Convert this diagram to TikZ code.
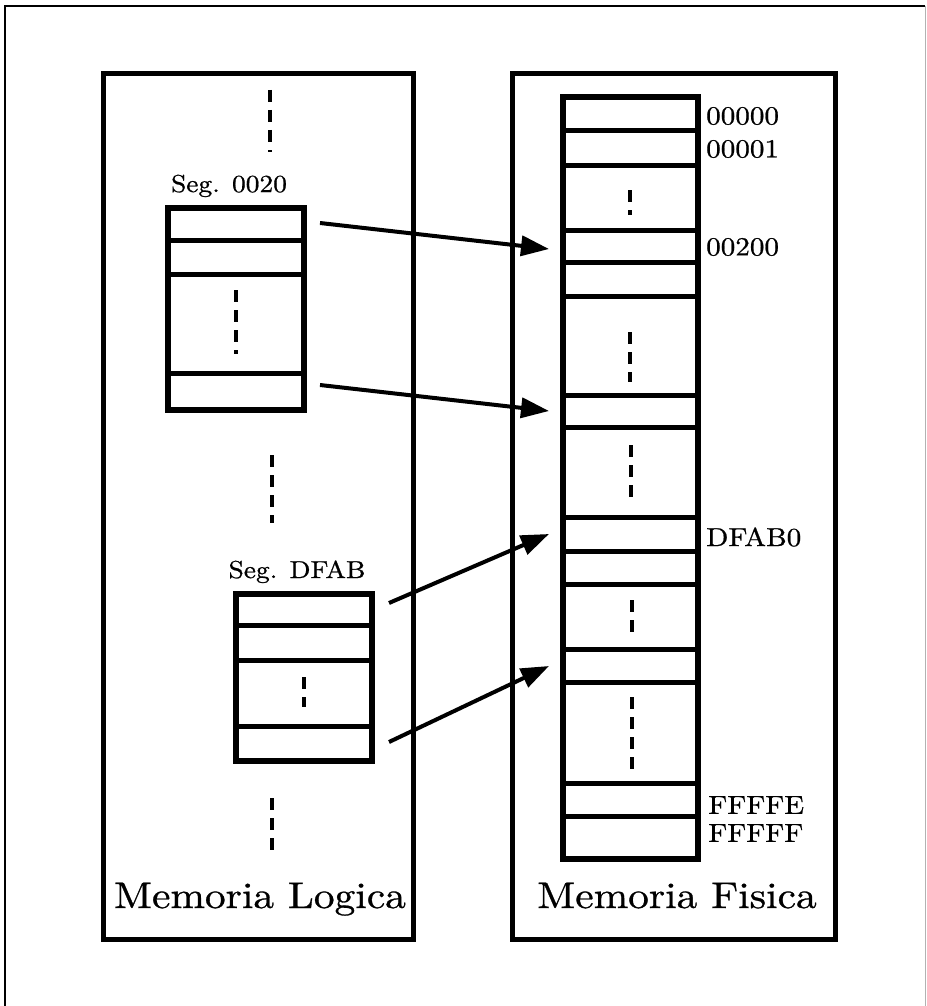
\documentclass[tikz,border=0pt]{standalone}
\usepackage{fontspec}
\setmainfont{lmroman10-regular.otf}
\newfontfamily\widefont{lmroman10-regular.otf}[FakeStretch=1.12,FakeBold=0.8]
\usetikzlibrary{arrows.meta}

\begin{document}
\begin{tikzpicture}[x=1pt,y=-1pt,
  frame/.style={line width=2.5pt},
  panel/.style={line width=5pt},
  block/.style={line width=5.5pt},
  rowline/.style={line width=5pt},
  dots/.style={line width=4pt, dash pattern=on 12pt off 8pt},
  ptr/.style={line width=4pt, -{Triangle[length=28pt,width=20pt]}},
  addr/.style={font=\widefont\fontsize{26}{26}\selectfont, anchor=west, inner sep=0pt},
  seglabel/.style={font=\widefont\fontsize{24.5}{24.5}\selectfont, anchor=base, inner sep=0pt},
  title/.style={font=\widefont\fontsize{37}{37}\selectfont, anchor=base, inner sep=0pt}]

\useasboundingbox (0,0) rectangle (926,1006);

% outer frame (open at the bottom)
\draw[frame] (5,1006) -- (5,6) -- (925,6);
\draw[line width=1pt, black!30] (925,6) -- (925,1006);

% the two panels
\draw[panel] (103,74) rectangle (413,939);
\draw[panel] (512,74) rectangle (835,939);
\node[title] (logica) at (260,908) {Memoria Logica};
\node[title] (fisica) at (677,908) {Memoria Fisica};

% logical memory: continuation marks
\draw[dots] (270,90) -- (270,152);
\draw[dots] (272,455) -- (272,523);
\draw[dots] (272,798) -- (272,852);

% segment 0020
\node[seglabel] (seg0020) at (229,192) {Seg. 0020};
\draw[block] (168,208) rectangle (304,410);
\foreach \y in {240,274,373} \draw[rowline] (168,\y) -- (304,\y);
\draw[dots] (236,290) -- (236,354);

% segment DFAB
\node[seglabel] (segdfab) at (297,578) {Seg. DFAB};
\draw[block] (236,594) rectangle (372,761);
\foreach \y in {625,660,726} \draw[rowline] (236,\y) -- (372,\y);
\draw[dots] (304,677) -- (304,707);

% physical memory column
\draw[block] (563,97) rectangle (698,859);
\foreach \y in {131,165,230,262,296,395,427,517,551,584,649,682,783,816}
  \draw[rowline] (563,\y) -- (698,\y);
\draw[dots] (630,190) -- (630,215);
\draw[dots] (630,332) -- (630,382);
\draw[dots] (631,445) -- (631,503);
\draw[dots] (632,600) -- (632,638);
\draw[dots] (632,697) -- (632,770);

% addresses
\node[addr] (a00000) at (706,116) {00000};
\node[addr] (a00001) at (706,149) {00001};
\node[addr] (a00200) at (706,247) {00200};
\node[addr] (adfab0) at (706,537) {DFAB0};
\node[addr] (afffe)  at (708,805) {FFFFE};
\node[addr] (affff)  at (708,833) {FFFFF};

% segment-to-physical mappings
\coordinate (s1) at (320,223); \coordinate (t1) at (549,249);
\coordinate (s2) at (320,385); \coordinate (t2) at (549,411);
\coordinate (s3) at (389,603); \coordinate (t3) at (549,534);
\coordinate (s4) at (389,742); \coordinate (t4) at (549,666);
\draw[ptr] (s1) -- (t1);
\draw[ptr] (s2) -- (t2);
\draw[ptr] (s3) -- (t3);
\draw[ptr] (s4) -- (t4);
\end{tikzpicture}
\end{document}
